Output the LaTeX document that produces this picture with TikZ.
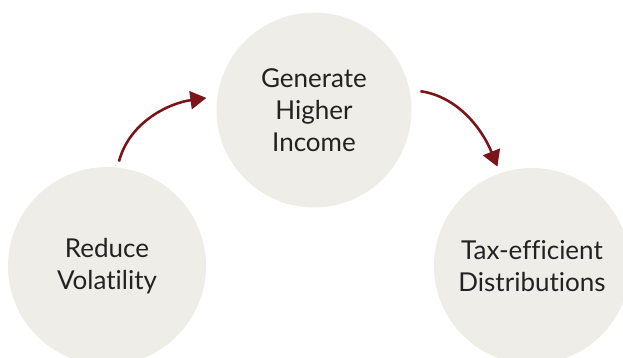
\documentclass[tikz,border=0pt]{standalone}
\usepackage{fontspec}
\setmainfont[Ligatures=NoCommon]{Lato}
\usetikzlibrary{arrows.meta}
\definecolor{circfill}{HTML}{EEEDE7}
\definecolor{arrowred}{HTML}{7A1519}
\definecolor{txt}{HTML}{222222}
\tikzset{
  bubble/.style={circle, fill=circfill, draw=none, inner sep=0pt, align=center,
    text=txt, font=\fontsize{26}{32}\selectfont},
  flow/.style={draw=arrowred, line width=2.6pt,
    -{Triangle[length=16pt,width=18pt]}}
}
\begin{document}
\begin{tikzpicture}[x=1pt,y=-1pt]
\useasboundingbox (0,0) rectangle (623,358);
\begin{scope}
\clip (0,0) rectangle (623,358);
\node[bubble, minimum size=198pt] (L) at (107,266) {Reduce\\Volatility};
\node[bubble, minimum size=195pt] (T) at (314,110) {Generate\\Higher\\Income};
\node[bubble, minimum size=196pt] (R) at (532,266) {Tax-efficient\\Distributions};
\end{scope}
\draw[flow, shorten <=6pt, shorten >=11pt] (L.84) to[out=75,in=188] (T.172);
\draw[flow, shorten <=11pt, shorten >=7pt] (T.12) to[out=-8,in=112] (R.109);
\end{tikzpicture}
\end{document}
